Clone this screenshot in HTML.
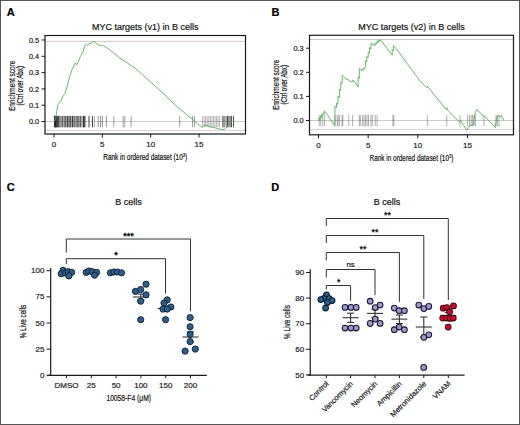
<!DOCTYPE html>
<html><head><meta charset="utf-8"><style>
html,body{margin:0;padding:0;background:#fff;}
svg{display:block;font-family:"Liberation Sans", sans-serif;}
</style></head><body>
<svg width="520" height="425" viewBox="0 0 520 425">
<rect x="0" y="0" width="520" height="425" fill="#fff"/>
<rect x="0.5" y="0.5" width="519" height="424" fill="none" stroke="#565656" stroke-width="1"/>
<text x="6.80" y="15.90" font-size="11" text-anchor="start" fill="#000" stroke="#000" stroke-width="0.2" font-weight="bold">A</text>
<text x="271.40" y="15.90" font-size="11" text-anchor="start" fill="#000" stroke="#000" stroke-width="0.2" font-weight="bold">B</text>
<text x="6.80" y="191.30" font-size="11" text-anchor="start" fill="#000" stroke="#000" stroke-width="0.2" font-weight="bold">C</text>
<text x="271.20" y="191.30" font-size="11" text-anchor="start" fill="#000" stroke="#000" stroke-width="0.2" font-weight="bold">D</text>
<text x="145.25" y="29.60" font-size="9.8" text-anchor="middle" fill="#111" stroke="#111" stroke-width="0.2" textLength="106.70" lengthAdjust="spacingAndGlyphs">MYC targets (v1) in B cells</text>
<line x1="45.00" y1="41.40" x2="245.50" y2="41.40" stroke="#d2bcc4" stroke-width="0.9"/>
<line x1="45.00" y1="130.40" x2="245.50" y2="130.40" stroke="#e2c4ce" stroke-width="0.9"/>
<line x1="45.00" y1="121.50" x2="245.50" y2="121.50" stroke="#c4c4c4" stroke-width="0.9"/>
<line x1="54.20" y1="115.90" x2="54.20" y2="127.30" stroke="rgba(20,20,20,0.2512432082632957)" stroke-width="1.0"/>
<line x1="54.95" y1="115.90" x2="54.95" y2="127.30" stroke="rgba(20,20,20,0.21318681826339042)" stroke-width="1.0"/>
<line x1="55.70" y1="115.90" x2="55.70" y2="127.30" stroke="rgba(20,20,20,0.32320558406876787)" stroke-width="1.0"/>
<line x1="56.45" y1="115.90" x2="56.45" y2="127.30" stroke="rgba(20,20,20,0.1959359830668594)" stroke-width="1.0"/>
<line x1="57.20" y1="115.90" x2="57.20" y2="127.30" stroke="rgba(20,20,20,0.29789404094747163)" stroke-width="1.0"/>
<line x1="57.95" y1="115.90" x2="57.95" y2="127.30" stroke="rgba(20,20,20,0.26045156172076883)" stroke-width="1.0"/>
<line x1="58.70" y1="115.90" x2="58.70" y2="127.30" stroke="rgba(20,20,20,0.1927597634504355)" stroke-width="1.0"/>
<line x1="59.45" y1="115.90" x2="59.45" y2="127.30" stroke="rgba(20,20,20,0.29163586130167246)" stroke-width="1.0"/>
<line x1="60.20" y1="115.90" x2="60.20" y2="127.30" stroke="rgba(20,20,20,0.18824904485723667)" stroke-width="1.0"/>
<line x1="60.95" y1="115.90" x2="60.95" y2="127.30" stroke="rgba(20,20,20,0.2754020504057249)" stroke-width="1.0"/>
<line x1="61.70" y1="115.90" x2="61.70" y2="127.30" stroke="rgba(20,20,20,0.19536819318641616)" stroke-width="1.0"/>
<line x1="62.45" y1="115.90" x2="62.45" y2="127.30" stroke="rgba(20,20,20,0.19995686293565032)" stroke-width="1.0"/>
<line x1="63.20" y1="115.90" x2="63.20" y2="127.30" stroke="rgba(20,20,20,0.27339422161135307)" stroke-width="1.0"/>
<line x1="63.95" y1="115.90" x2="63.95" y2="127.30" stroke="rgba(20,20,20,0.3619074674278484)" stroke-width="1.0"/>
<line x1="64.70" y1="115.90" x2="64.70" y2="127.30" stroke="rgba(20,20,20,0.20723643145292203)" stroke-width="1.0"/>
<line x1="65.45" y1="115.90" x2="65.45" y2="127.30" stroke="rgba(20,20,20,0.2291125722135432)" stroke-width="1.0"/>
<line x1="66.20" y1="115.90" x2="66.20" y2="127.30" stroke="rgba(20,20,20,0.31803530892922965)" stroke-width="1.0"/>
<line x1="66.95" y1="115.90" x2="66.95" y2="127.30" stroke="rgba(20,20,20,0.38849596734054126)" stroke-width="1.0"/>
<line x1="67.70" y1="115.90" x2="67.70" y2="127.30" stroke="rgba(20,20,20,0.3069626486958497)" stroke-width="1.0"/>
<line x1="68.45" y1="115.90" x2="68.45" y2="127.30" stroke="rgba(20,20,20,0.26726970442317166)" stroke-width="1.0"/>
<line x1="69.20" y1="115.90" x2="69.20" y2="127.30" stroke="rgba(20,20,20,0.3947761232304424)" stroke-width="1.0"/>
<line x1="69.95" y1="115.90" x2="69.95" y2="127.30" stroke="rgba(20,20,20,0.19024818973590638)" stroke-width="1.0"/>
<line x1="70.70" y1="115.90" x2="70.70" y2="127.30" stroke="rgba(20,20,20,0.36886306099070953)" stroke-width="1.0"/>
<line x1="71.45" y1="115.90" x2="71.45" y2="127.30" stroke="rgba(20,20,20,0.24371404299296878)" stroke-width="1.0"/>
<line x1="72.20" y1="115.90" x2="72.20" y2="127.30" stroke="rgba(20,20,20,0.21173611833863626)" stroke-width="1.0"/>
<line x1="72.95" y1="115.90" x2="72.95" y2="127.30" stroke="rgba(20,20,20,0.20591429237724104)" stroke-width="1.0"/>
<line x1="73.70" y1="115.90" x2="73.70" y2="127.30" stroke="rgba(20,20,20,0.24786600130242556)" stroke-width="1.0"/>
<line x1="74.45" y1="115.90" x2="74.45" y2="127.30" stroke="rgba(20,20,20,0.35954779900640693)" stroke-width="1.0"/>
<line x1="75.20" y1="115.90" x2="75.20" y2="127.30" stroke="rgba(20,20,20,0.21975980358326624)" stroke-width="1.0"/>
<line x1="75.95" y1="115.90" x2="75.95" y2="127.30" stroke="rgba(20,20,20,0.3079520360057426)" stroke-width="1.0"/>
<line x1="76.70" y1="115.90" x2="76.70" y2="127.30" stroke="rgba(20,20,20,0.3205609631637605)" stroke-width="1.0"/>
<line x1="77.45" y1="115.90" x2="77.45" y2="127.30" stroke="rgba(20,20,20,0.2619274593996609)" stroke-width="1.0"/>
<line x1="78.20" y1="115.90" x2="78.20" y2="127.30" stroke="rgba(20,20,20,0.3005037824561027)" stroke-width="1.0"/>
<line x1="78.95" y1="115.90" x2="78.95" y2="127.30" stroke="rgba(20,20,20,0.19381357449413109)" stroke-width="1.0"/>
<line x1="79.70" y1="115.90" x2="79.70" y2="127.30" stroke="rgba(20,20,20,0.19311225739257118)" stroke-width="1.0"/>
<line x1="80.45" y1="115.90" x2="80.45" y2="127.30" stroke="rgba(20,20,20,0.22531091682025184)" stroke-width="1.0"/>
<line x1="81.20" y1="115.90" x2="81.20" y2="127.30" stroke="rgba(20,20,20,0.32968799409999294)" stroke-width="1.0"/>
<line x1="81.95" y1="115.90" x2="81.95" y2="127.30" stroke="rgba(20,20,20,0.27407030724726866)" stroke-width="1.0"/>
<line x1="82.70" y1="115.90" x2="82.70" y2="127.30" stroke="rgba(20,20,20,0.24911237748289414)" stroke-width="1.0"/>
<line x1="83.45" y1="115.90" x2="83.45" y2="127.30" stroke="rgba(20,20,20,0.30882360997168057)" stroke-width="1.0"/>
<line x1="84.20" y1="115.90" x2="84.20" y2="127.30" stroke="rgba(20,20,20,0.2797005628015706)" stroke-width="1.0"/>
<line x1="84.95" y1="115.90" x2="84.95" y2="127.30" stroke="rgba(20,20,20,0.2459487393100101)" stroke-width="1.0"/>
<line x1="85.70" y1="115.90" x2="85.70" y2="127.30" stroke="rgba(20,20,20,0.3547634859349481)" stroke-width="1.0"/>
<line x1="54.60" y1="115.90" x2="54.60" y2="127.30" stroke="rgba(20,20,20,0.9)" stroke-width="1.0"/>
<line x1="55.40" y1="115.90" x2="55.40" y2="127.30" stroke="rgba(20,20,20,0.9)" stroke-width="1.0"/>
<line x1="56.20" y1="115.90" x2="56.20" y2="127.30" stroke="rgba(20,20,20,0.9)" stroke-width="1.0"/>
<line x1="57.00" y1="115.90" x2="57.00" y2="127.30" stroke="rgba(20,20,20,0.7)" stroke-width="1.0"/>
<line x1="57.80" y1="115.90" x2="57.80" y2="127.30" stroke="rgba(20,20,20,0.6)" stroke-width="1.0"/>
<line x1="58.50" y1="115.90" x2="58.50" y2="127.30" stroke="rgba(20,20,20,0.6)" stroke-width="1.0"/>
<line x1="60.00" y1="115.90" x2="60.00" y2="127.30" stroke="rgba(20,20,20,0.45)" stroke-width="1.0"/>
<line x1="62.20" y1="115.90" x2="62.20" y2="127.30" stroke="rgba(20,20,20,0.7)" stroke-width="1.0"/>
<line x1="65.10" y1="115.90" x2="65.10" y2="127.30" stroke="rgba(20,20,20,0.75)" stroke-width="1.0"/>
<line x1="67.70" y1="115.90" x2="67.70" y2="127.30" stroke="rgba(20,20,20,0.75)" stroke-width="1.0"/>
<line x1="70.20" y1="115.90" x2="70.20" y2="127.30" stroke="rgba(20,20,20,0.8)" stroke-width="1.0"/>
<line x1="72.50" y1="115.90" x2="72.50" y2="127.30" stroke="rgba(20,20,20,0.75)" stroke-width="1.0"/>
<line x1="74.00" y1="115.90" x2="74.00" y2="127.30" stroke="rgba(20,20,20,0.4)" stroke-width="1.0"/>
<line x1="75.90" y1="115.90" x2="75.90" y2="127.30" stroke="rgba(20,20,20,0.3)" stroke-width="1.0"/>
<line x1="78.00" y1="115.90" x2="78.00" y2="127.30" stroke="rgba(20,20,20,0.7)" stroke-width="1.0"/>
<line x1="80.20" y1="115.90" x2="80.20" y2="127.30" stroke="rgba(20,20,20,0.7)" stroke-width="1.0"/>
<line x1="83.60" y1="115.90" x2="83.60" y2="127.30" stroke="rgba(20,20,20,0.8)" stroke-width="1.0"/>
<line x1="84.40" y1="115.90" x2="84.40" y2="127.30" stroke="rgba(20,20,20,0.6)" stroke-width="1.0"/>
<line x1="89.00" y1="115.90" x2="89.00" y2="127.30" stroke="rgba(20,20,20,0.8)" stroke-width="1.0"/>
<line x1="92.50" y1="115.90" x2="92.50" y2="127.30" stroke="rgba(20,20,20,0.8)" stroke-width="1.0"/>
<line x1="94.50" y1="115.90" x2="94.50" y2="127.30" stroke="rgba(20,20,20,0.3)" stroke-width="1.0"/>
<line x1="98.20" y1="115.90" x2="98.20" y2="127.30" stroke="rgba(20,20,20,0.45)" stroke-width="1.0"/>
<line x1="100.50" y1="115.90" x2="100.50" y2="127.30" stroke="rgba(20,20,20,0.45)" stroke-width="1.0"/>
<line x1="102.40" y1="115.90" x2="102.40" y2="127.30" stroke="rgba(20,20,20,0.45)" stroke-width="1.0"/>
<line x1="106.30" y1="115.90" x2="106.30" y2="127.30" stroke="rgba(20,20,20,0.45)" stroke-width="1.0"/>
<line x1="113.80" y1="115.90" x2="113.80" y2="127.30" stroke="rgba(20,20,20,0.4)" stroke-width="1.0"/>
<line x1="123.10" y1="115.90" x2="123.10" y2="127.30" stroke="rgba(20,20,20,0.4)" stroke-width="1.0"/>
<line x1="124.80" y1="115.90" x2="124.80" y2="127.30" stroke="rgba(20,20,20,0.4)" stroke-width="1.0"/>
<line x1="131.10" y1="115.90" x2="131.10" y2="127.30" stroke="rgba(20,20,20,0.4)" stroke-width="1.0"/>
<line x1="179.70" y1="115.90" x2="179.70" y2="127.30" stroke="rgba(20,20,20,0.4)" stroke-width="1.0"/>
<line x1="192.50" y1="115.90" x2="192.50" y2="127.30" stroke="rgba(20,20,20,0.4)" stroke-width="1.0"/>
<line x1="194.50" y1="115.90" x2="194.50" y2="127.30" stroke="rgba(20,20,20,0.4)" stroke-width="1.0"/>
<line x1="202.60" y1="115.90" x2="202.60" y2="127.30" stroke="rgba(20,20,20,0.3)" stroke-width="1.0"/>
<line x1="204.15" y1="115.90" x2="204.15" y2="127.30" stroke="rgba(20,20,20,0.3)" stroke-width="1.0"/>
<line x1="205.70" y1="115.90" x2="205.70" y2="127.30" stroke="rgba(20,20,20,0.3)" stroke-width="1.0"/>
<line x1="207.25" y1="115.90" x2="207.25" y2="127.30" stroke="rgba(20,20,20,0.3)" stroke-width="1.0"/>
<line x1="208.80" y1="115.90" x2="208.80" y2="127.30" stroke="rgba(20,20,20,0.3)" stroke-width="1.0"/>
<line x1="210.35" y1="115.90" x2="210.35" y2="127.30" stroke="rgba(20,20,20,0.3)" stroke-width="1.0"/>
<line x1="211.90" y1="115.90" x2="211.90" y2="127.30" stroke="rgba(20,20,20,0.3)" stroke-width="1.0"/>
<line x1="213.45" y1="115.90" x2="213.45" y2="127.30" stroke="rgba(20,20,20,0.3)" stroke-width="1.0"/>
<line x1="215.00" y1="115.90" x2="215.00" y2="127.30" stroke="rgba(20,20,20,0.3)" stroke-width="1.0"/>
<line x1="216.55" y1="115.90" x2="216.55" y2="127.30" stroke="rgba(20,20,20,0.3)" stroke-width="1.0"/>
<line x1="218.10" y1="115.90" x2="218.10" y2="127.30" stroke="rgba(20,20,20,0.3)" stroke-width="1.0"/>
<line x1="219.65" y1="115.90" x2="219.65" y2="127.30" stroke="rgba(20,20,20,0.3)" stroke-width="1.0"/>
<line x1="222.80" y1="115.90" x2="222.80" y2="127.30" stroke="rgba(20,20,20,0.7)" stroke-width="1.0"/>
<line x1="224.10" y1="115.90" x2="224.10" y2="127.30" stroke="rgba(20,20,20,0.7)" stroke-width="1.0"/>
<line x1="226.10" y1="115.90" x2="226.10" y2="127.30" stroke="rgba(20,20,20,0.7)" stroke-width="1.0"/>
<line x1="227.50" y1="115.90" x2="227.50" y2="127.30" stroke="rgba(20,20,20,0.7)" stroke-width="1.0"/>
<line x1="228.80" y1="115.90" x2="228.80" y2="127.30" stroke="rgba(20,20,20,0.7)" stroke-width="1.0"/>
<line x1="230.20" y1="115.90" x2="230.20" y2="127.30" stroke="rgba(20,20,20,0.7)" stroke-width="1.0"/>
<line x1="231.50" y1="115.90" x2="231.50" y2="127.30" stroke="rgba(20,20,20,0.7)" stroke-width="1.0"/>
<line x1="233.50" y1="115.90" x2="233.50" y2="127.30" stroke="rgba(20,20,20,0.7)" stroke-width="1.0"/>
<polyline points="54.50,121.50 55.80,117.40 56.90,110.50 58.00,104.40 59.20,102.90 61.50,99.80 63.00,96.00 65.30,92.90 66.80,87.60 68.40,81.40 69.90,76.10 71.90,69.80 73.80,66.10 75.20,63.20 77.10,64.60 78.50,61.40 80.40,56.60 81.80,53.80 83.20,51.50 84.60,45.40 85.50,44.40 86.90,45.40 88.40,44.90 89.80,43.00 90.70,43.90 92.10,42.10 93.50,41.40 94.90,42.10 97.30,44.40 100.10,45.40 102.50,45.40 105.80,47.20 108.60,49.10 113.00,52.40 121.00,59.00 129.00,64.00 135.00,68.00 145.00,77.00 155.00,86.00 165.00,95.00 175.00,105.00 181.00,110.00 185.00,113.10 189.00,117.00 193.75,120.00 197.50,123.75 201.90,127.50 203.75,125.60 206.25,125.00 210.00,126.90 213.75,127.50 217.50,128.50 221.25,129.40 223.75,129.75 225.60,128.75 227.50,126.25 229.40,123.75 231.90,121.25" fill="none" stroke="#56b056" stroke-width="0.9" stroke-linejoin="round"/>
<rect x="45" y="35.5" width="200.5" height="98.5" fill="none" stroke="#1a1a1a" stroke-width="1.2"/>
<line x1="41.50" y1="121.50" x2="45.00" y2="121.50" stroke="#1a1a1a" stroke-width="1"/>
<text x="39.20" y="124.10" font-size="7.8" text-anchor="end" fill="#222" stroke="#222" stroke-width="0.2" textLength="10.30" lengthAdjust="spacingAndGlyphs">0.0</text>
<line x1="41.50" y1="105.20" x2="45.00" y2="105.20" stroke="#1a1a1a" stroke-width="1"/>
<text x="39.20" y="107.80" font-size="7.8" text-anchor="end" fill="#222" stroke="#222" stroke-width="0.2" textLength="10.30" lengthAdjust="spacingAndGlyphs">0.1</text>
<line x1="41.50" y1="88.90" x2="45.00" y2="88.90" stroke="#1a1a1a" stroke-width="1"/>
<text x="39.20" y="91.50" font-size="7.8" text-anchor="end" fill="#222" stroke="#222" stroke-width="0.2" textLength="10.30" lengthAdjust="spacingAndGlyphs">0.2</text>
<line x1="41.50" y1="72.60" x2="45.00" y2="72.60" stroke="#1a1a1a" stroke-width="1"/>
<text x="39.20" y="75.20" font-size="7.8" text-anchor="end" fill="#222" stroke="#222" stroke-width="0.2" textLength="10.30" lengthAdjust="spacingAndGlyphs">0.3</text>
<line x1="41.50" y1="56.30" x2="45.00" y2="56.30" stroke="#1a1a1a" stroke-width="1"/>
<text x="39.20" y="58.90" font-size="7.8" text-anchor="end" fill="#222" stroke="#222" stroke-width="0.2" textLength="10.30" lengthAdjust="spacingAndGlyphs">0.4</text>
<line x1="41.50" y1="40.00" x2="45.00" y2="40.00" stroke="#1a1a1a" stroke-width="1"/>
<text x="39.20" y="42.60" font-size="7.8" text-anchor="end" fill="#222" stroke="#222" stroke-width="0.2" textLength="10.30" lengthAdjust="spacingAndGlyphs">0.5</text>
<line x1="54.00" y1="134.00" x2="54.00" y2="137.50" stroke="#1a1a1a" stroke-width="1"/>
<text x="54.00" y="147.30" font-size="8" text-anchor="middle" fill="#222" stroke="#222" stroke-width="0.2">0</text>
<line x1="102.35" y1="134.00" x2="102.35" y2="137.50" stroke="#1a1a1a" stroke-width="1"/>
<text x="102.35" y="147.30" font-size="8" text-anchor="middle" fill="#222" stroke="#222" stroke-width="0.2">5</text>
<line x1="150.70" y1="134.00" x2="150.70" y2="137.50" stroke="#1a1a1a" stroke-width="1"/>
<text x="150.70" y="147.30" font-size="8" text-anchor="middle" fill="#222" stroke="#222" stroke-width="0.2">10</text>
<line x1="199.05" y1="134.00" x2="199.05" y2="137.50" stroke="#1a1a1a" stroke-width="1"/>
<text x="199.05" y="147.30" font-size="8" text-anchor="middle" fill="#222" stroke="#222" stroke-width="0.2">15</text>
<text x="145.25" y="160.00" font-size="8.6" text-anchor="middle" fill="#111" stroke="#111" stroke-width="0.2" textLength="83.80" lengthAdjust="spacingAndGlyphs">Rank in ordered dataset (10<tspan font-size="5.5" dy="-3">3</tspan><tspan dy="3">)</tspan></text>
<text x="15.20" y="85.80" font-size="9.0" text-anchor="middle" fill="#111" stroke="#111" stroke-width="0.2" textLength="50.50" lengthAdjust="spacingAndGlyphs" transform="rotate(-90 15.20 85.80)">Enrichment score</text>
<text x="23.10" y="85.80" font-size="9.0" text-anchor="middle" fill="#111" stroke="#111" stroke-width="0.2" textLength="39.50" lengthAdjust="spacingAndGlyphs" transform="rotate(-90 23.10 85.80)">(Ctrl over Abx)</text>
<text x="411.50" y="29.60" font-size="9.8" text-anchor="middle" fill="#111" stroke="#111" stroke-width="0.2" textLength="106.70" lengthAdjust="spacingAndGlyphs">MYC targets (v2) in B cells</text>
<line x1="309.50" y1="39.50" x2="513.50" y2="39.50" stroke="#d2bcc4" stroke-width="0.9"/>
<line x1="309.50" y1="129.70" x2="513.50" y2="129.70" stroke="#e2c4ce" stroke-width="0.9"/>
<line x1="309.50" y1="120.50" x2="513.50" y2="120.50" stroke="#c4c4c4" stroke-width="0.9"/>
<line x1="319.20" y1="114.90" x2="319.20" y2="126.30" stroke="rgba(20,20,20,0.33)" stroke-width="1.0"/>
<line x1="320.80" y1="114.90" x2="320.80" y2="126.30" stroke="rgba(20,20,20,0.33)" stroke-width="1.0"/>
<line x1="322.70" y1="114.90" x2="322.70" y2="126.30" stroke="rgba(20,20,20,0.33)" stroke-width="1.0"/>
<line x1="324.60" y1="114.90" x2="324.60" y2="126.30" stroke="rgba(20,20,20,0.33)" stroke-width="1.0"/>
<line x1="335.20" y1="114.90" x2="335.20" y2="126.30" stroke="rgba(20,20,20,0.33)" stroke-width="1.0"/>
<line x1="337.20" y1="114.90" x2="337.20" y2="126.30" stroke="rgba(20,20,20,0.33)" stroke-width="1.0"/>
<line x1="338.20" y1="114.90" x2="338.20" y2="126.30" stroke="rgba(20,20,20,0.33)" stroke-width="1.0"/>
<line x1="339.60" y1="114.90" x2="339.60" y2="126.30" stroke="rgba(20,20,20,0.33)" stroke-width="1.0"/>
<line x1="342.00" y1="114.90" x2="342.00" y2="126.30" stroke="rgba(20,20,20,0.33)" stroke-width="1.0"/>
<line x1="342.80" y1="114.90" x2="342.80" y2="126.30" stroke="rgba(20,20,20,0.33)" stroke-width="1.0"/>
<line x1="348.80" y1="114.90" x2="348.80" y2="126.30" stroke="rgba(20,20,20,0.33)" stroke-width="1.0"/>
<line x1="352.60" y1="114.90" x2="352.60" y2="126.30" stroke="rgba(20,20,20,0.33)" stroke-width="1.0"/>
<line x1="359.30" y1="114.90" x2="359.30" y2="126.30" stroke="rgba(20,20,20,0.33)" stroke-width="1.0"/>
<line x1="360.30" y1="114.90" x2="360.30" y2="126.30" stroke="rgba(20,20,20,0.33)" stroke-width="1.0"/>
<line x1="362.70" y1="114.90" x2="362.70" y2="126.30" stroke="rgba(20,20,20,0.33)" stroke-width="1.0"/>
<line x1="364.10" y1="114.90" x2="364.10" y2="126.30" stroke="rgba(20,20,20,0.33)" stroke-width="1.0"/>
<line x1="365.60" y1="114.90" x2="365.60" y2="126.30" stroke="rgba(20,20,20,0.33)" stroke-width="1.0"/>
<line x1="367.00" y1="114.90" x2="367.00" y2="126.30" stroke="rgba(20,20,20,0.33)" stroke-width="1.0"/>
<line x1="368.50" y1="114.90" x2="368.50" y2="126.30" stroke="rgba(20,20,20,0.33)" stroke-width="1.0"/>
<line x1="370.90" y1="114.90" x2="370.90" y2="126.30" stroke="rgba(20,20,20,0.33)" stroke-width="1.0"/>
<line x1="372.30" y1="114.90" x2="372.30" y2="126.30" stroke="rgba(20,20,20,0.33)" stroke-width="1.0"/>
<line x1="375.20" y1="114.90" x2="375.20" y2="126.30" stroke="rgba(20,20,20,0.33)" stroke-width="1.0"/>
<line x1="377.10" y1="114.90" x2="377.10" y2="126.30" stroke="rgba(20,20,20,0.33)" stroke-width="1.0"/>
<line x1="392.90" y1="114.90" x2="392.90" y2="126.30" stroke="rgba(20,20,20,0.33)" stroke-width="1.0"/>
<line x1="393.80" y1="114.90" x2="393.80" y2="126.30" stroke="rgba(20,20,20,0.33)" stroke-width="1.0"/>
<line x1="427.30" y1="114.90" x2="427.30" y2="126.30" stroke="rgba(20,20,20,0.33)" stroke-width="1.0"/>
<line x1="446.80" y1="114.90" x2="446.80" y2="126.30" stroke="rgba(20,20,20,0.33)" stroke-width="1.0"/>
<line x1="460.10" y1="114.90" x2="460.10" y2="126.30" stroke="rgba(20,20,20,0.33)" stroke-width="1.0"/>
<line x1="467.60" y1="114.90" x2="467.60" y2="126.30" stroke="rgba(20,20,20,0.33)" stroke-width="1.0"/>
<line x1="469.50" y1="114.90" x2="469.50" y2="126.30" stroke="rgba(20,20,20,0.33)" stroke-width="1.0"/>
<line x1="471.20" y1="114.90" x2="471.20" y2="126.30" stroke="rgba(20,20,20,0.33)" stroke-width="1.0"/>
<line x1="472.60" y1="114.90" x2="472.60" y2="126.30" stroke="rgba(20,20,20,0.33)" stroke-width="1.0"/>
<line x1="474.00" y1="114.90" x2="474.00" y2="126.30" stroke="rgba(20,20,20,0.33)" stroke-width="1.0"/>
<line x1="475.40" y1="114.90" x2="475.40" y2="126.30" stroke="rgba(20,20,20,0.33)" stroke-width="1.0"/>
<line x1="484.00" y1="114.90" x2="484.00" y2="126.30" stroke="rgba(20,20,20,0.33)" stroke-width="1.0"/>
<line x1="496.00" y1="114.90" x2="496.00" y2="126.30" stroke="rgba(20,20,20,0.33)" stroke-width="1.0"/>
<line x1="497.40" y1="114.90" x2="497.40" y2="126.30" stroke="rgba(20,20,20,0.33)" stroke-width="1.0"/>
<line x1="499.00" y1="114.90" x2="499.00" y2="126.30" stroke="rgba(20,20,20,0.33)" stroke-width="1.0"/>
<polyline points="318.90,121.10 318.90,118.02 320.26,119.32 320.26,116.24 321.62,117.54 321.62,114.46 322.98,115.76 322.98,112.68 324.34,113.98 324.34,110.90 325.70,112.20 334.60,125.60 335.00,110.80 335.00,106.30 336.50,107.60 336.50,103.10 338.00,104.40 338.00,96.10 339.40,97.40 339.40,89.10 340.80,90.40 340.80,82.10 342.20,83.40 342.20,75.10 343.60,76.40 346.90,79.70 347.30,78.60 349.10,80.90 352.50,82.00 353.10,79.80 358.10,87.00 358.10,77.10 359.35,78.40 359.35,68.50 360.60,69.80 361.60,70.80 362.10,68.90 363.00,70.30 363.50,68.00 364.40,68.90 365.40,66.50 365.40,60.78 366.80,62.08 366.80,56.36 368.20,57.66 368.20,51.94 369.60,53.24 369.60,47.52 371.00,48.82 371.00,43.10 372.40,44.40 373.80,45.80 374.30,43.40 375.70,45.40 376.20,42.10 377.10,43.20 377.60,40.60 378.70,42.10 379.10,40.20 379.90,41.20 380.30,39.70 380.90,40.20 392.20,55.20 392.20,49.70 393.35,51.00 393.35,45.50 394.50,46.80 396.30,48.80 420.00,80.90 426.90,87.80 427.80,86.10 428.70,87.80 446.00,109.40 446.80,107.70 447.70,110.30 459.80,122.40 460.70,120.70 466.70,130.20 468.40,127.60 470.20,125.80 471.90,125.00 473.60,124.10 474.50,116.30 475.40,112.00 477.10,109.40 484.00,117.20 484.90,116.30 495.30,127.60 496.10,120.70 497.00,116.30 498.70,115.50 500.40,117.20 501.30,115.50 503.90,120.70" fill="none" stroke="#56b056" stroke-width="0.9" stroke-linejoin="round"/>
<rect x="309.5" y="35.3" width="204.0" height="99.50000000000001" fill="none" stroke="#1a1a1a" stroke-width="1.2"/>
<line x1="306.00" y1="120.50" x2="309.50" y2="120.50" stroke="#1a1a1a" stroke-width="1"/>
<text x="303.70" y="123.10" font-size="7.8" text-anchor="end" fill="#222" stroke="#222" stroke-width="0.2" textLength="10.30" lengthAdjust="spacingAndGlyphs">0.0</text>
<line x1="306.00" y1="96.40" x2="309.50" y2="96.40" stroke="#1a1a1a" stroke-width="1"/>
<text x="303.70" y="99.00" font-size="7.8" text-anchor="end" fill="#222" stroke="#222" stroke-width="0.2" textLength="10.30" lengthAdjust="spacingAndGlyphs">0.1</text>
<line x1="306.00" y1="72.30" x2="309.50" y2="72.30" stroke="#1a1a1a" stroke-width="1"/>
<text x="303.70" y="74.90" font-size="7.8" text-anchor="end" fill="#222" stroke="#222" stroke-width="0.2" textLength="10.30" lengthAdjust="spacingAndGlyphs">0.2</text>
<line x1="306.00" y1="48.20" x2="309.50" y2="48.20" stroke="#1a1a1a" stroke-width="1"/>
<text x="303.70" y="50.80" font-size="7.8" text-anchor="end" fill="#222" stroke="#222" stroke-width="0.2" textLength="10.30" lengthAdjust="spacingAndGlyphs">0.3</text>
<line x1="318.50" y1="134.80" x2="318.50" y2="138.30" stroke="#1a1a1a" stroke-width="1"/>
<text x="318.50" y="148.10" font-size="8" text-anchor="middle" fill="#222" stroke="#222" stroke-width="0.2">0</text>
<line x1="368.15" y1="134.80" x2="368.15" y2="138.30" stroke="#1a1a1a" stroke-width="1"/>
<text x="368.15" y="148.10" font-size="8" text-anchor="middle" fill="#222" stroke="#222" stroke-width="0.2">5</text>
<line x1="417.80" y1="134.80" x2="417.80" y2="138.30" stroke="#1a1a1a" stroke-width="1"/>
<text x="417.80" y="148.10" font-size="8" text-anchor="middle" fill="#222" stroke="#222" stroke-width="0.2">10</text>
<line x1="467.45" y1="134.80" x2="467.45" y2="138.30" stroke="#1a1a1a" stroke-width="1"/>
<text x="467.45" y="148.10" font-size="8" text-anchor="middle" fill="#222" stroke="#222" stroke-width="0.2">15</text>
<text x="411.50" y="160.80" font-size="8.6" text-anchor="middle" fill="#111" stroke="#111" stroke-width="0.2" textLength="83.80" lengthAdjust="spacingAndGlyphs">Rank in ordered dataset (10<tspan font-size="5.5" dy="-3">3</tspan><tspan dy="3">)</tspan></text>
<text x="279.50" y="84.80" font-size="9.0" text-anchor="middle" fill="#111" stroke="#111" stroke-width="0.2" textLength="50.50" lengthAdjust="spacingAndGlyphs" transform="rotate(-90 279.50 84.80)">Enrichment score</text>
<text x="287.40" y="84.80" font-size="9.0" text-anchor="middle" fill="#111" stroke="#111" stroke-width="0.2" textLength="39.50" lengthAdjust="spacingAndGlyphs" transform="rotate(-90 287.40 84.80)">(Ctrl over Abx)</text>
<text x="128.60" y="204.80" font-size="9" text-anchor="middle" fill="#111" stroke="#111" stroke-width="0.2">B cells</text>
<line x1="50.70" y1="268.00" x2="50.70" y2="375.90" stroke="#1a1a1a" stroke-width="1.2"/>
<line x1="47.60" y1="375.30" x2="206.80" y2="375.30" stroke="#1a1a1a" stroke-width="1.2"/>
<line x1="46.50" y1="375.30" x2="50.70" y2="375.30" stroke="#1a1a1a" stroke-width="1"/>
<text x="44.40" y="377.90" font-size="8" text-anchor="end" fill="#222" stroke="#222" stroke-width="0.2">0</text>
<line x1="46.50" y1="349.14" x2="50.70" y2="349.14" stroke="#1a1a1a" stroke-width="1"/>
<text x="44.40" y="351.74" font-size="8" text-anchor="end" fill="#222" stroke="#222" stroke-width="0.2">25</text>
<line x1="46.50" y1="322.98" x2="50.70" y2="322.98" stroke="#1a1a1a" stroke-width="1"/>
<text x="44.40" y="325.58" font-size="8" text-anchor="end" fill="#222" stroke="#222" stroke-width="0.2">50</text>
<line x1="46.50" y1="296.82" x2="50.70" y2="296.82" stroke="#1a1a1a" stroke-width="1"/>
<text x="44.40" y="299.42" font-size="8" text-anchor="end" fill="#222" stroke="#222" stroke-width="0.2">75</text>
<line x1="46.50" y1="270.66" x2="50.70" y2="270.66" stroke="#1a1a1a" stroke-width="1"/>
<text x="44.40" y="273.26" font-size="8" text-anchor="end" fill="#222" stroke="#222" stroke-width="0.2">100</text>
<line x1="66.50" y1="375.30" x2="66.50" y2="378.20" stroke="#1a1a1a" stroke-width="1"/>
<text x="66.50" y="387.60" font-size="8" text-anchor="middle" fill="#222" stroke="#222" stroke-width="0.2">DMSO</text>
<line x1="91.30" y1="375.30" x2="91.30" y2="378.20" stroke="#1a1a1a" stroke-width="1"/>
<text x="91.30" y="387.60" font-size="8" text-anchor="middle" fill="#222" stroke="#222" stroke-width="0.2">25</text>
<line x1="116.10" y1="375.30" x2="116.10" y2="378.20" stroke="#1a1a1a" stroke-width="1"/>
<text x="116.10" y="387.60" font-size="8" text-anchor="middle" fill="#222" stroke="#222" stroke-width="0.2">50</text>
<line x1="140.90" y1="375.30" x2="140.90" y2="378.20" stroke="#1a1a1a" stroke-width="1"/>
<text x="140.90" y="387.60" font-size="8" text-anchor="middle" fill="#222" stroke="#222" stroke-width="0.2">100</text>
<line x1="165.70" y1="375.30" x2="165.70" y2="378.20" stroke="#1a1a1a" stroke-width="1"/>
<text x="165.70" y="387.60" font-size="8" text-anchor="middle" fill="#222" stroke="#222" stroke-width="0.2">150</text>
<line x1="190.50" y1="375.30" x2="190.50" y2="378.20" stroke="#1a1a1a" stroke-width="1"/>
<text x="190.50" y="387.60" font-size="8" text-anchor="middle" fill="#222" stroke="#222" stroke-width="0.2">200</text>
<text x="128.70" y="400.70" font-size="9.2" text-anchor="middle" fill="#111" stroke="#111" stroke-width="0.2" textLength="44.60" lengthAdjust="spacingAndGlyphs">10058-F4 (μM)</text>
<text x="26.00" y="321.50" font-size="8.6" text-anchor="middle" fill="#111" stroke="#111" stroke-width="0.2" textLength="33.60" lengthAdjust="spacingAndGlyphs" transform="rotate(-90 26.00 321.50)">% Live cells</text>
<polyline points="66.30,252.50 66.30,239.00 190.50,239.00 190.50,311.40" fill="none" stroke="#333" stroke-width="1" stroke-linejoin="round"/>
<text x="128.60" y="238.70" font-size="9" text-anchor="middle" fill="#111" stroke="#111" stroke-width="0.45">***</text>
<polyline points="66.30,264.20 66.30,258.70 165.50,258.70 165.50,293.60" fill="none" stroke="#333" stroke-width="1" stroke-linejoin="round"/>
<text x="116.00" y="258.40" font-size="9" text-anchor="middle" fill="#111" stroke="#111" stroke-width="0.45">*</text>
<line x1="132.90" y1="297.00" x2="148.90" y2="297.00" stroke="#333" stroke-width="1.1"/>
<line x1="140.90" y1="294.00" x2="140.90" y2="300.00" stroke="#333" stroke-width="1.1"/>
<line x1="137.40" y1="294.00" x2="144.40" y2="294.00" stroke="#333" stroke-width="1.1"/>
<line x1="137.40" y1="300.00" x2="144.40" y2="300.00" stroke="#333" stroke-width="1.1"/>
<line x1="157.70" y1="308.40" x2="173.70" y2="308.40" stroke="#333" stroke-width="1.1"/>
<line x1="165.70" y1="306.00" x2="165.70" y2="311.00" stroke="#333" stroke-width="1.1"/>
<line x1="162.20" y1="306.00" x2="169.20" y2="306.00" stroke="#333" stroke-width="1.1"/>
<line x1="162.20" y1="311.00" x2="169.20" y2="311.00" stroke="#333" stroke-width="1.1"/>
<line x1="182.50" y1="337.00" x2="198.50" y2="337.00" stroke="#333" stroke-width="1.1"/>
<line x1="190.50" y1="331.80" x2="190.50" y2="342.20" stroke="#333" stroke-width="1.1"/>
<line x1="187.00" y1="331.80" x2="194.00" y2="331.80" stroke="#333" stroke-width="1.1"/>
<line x1="187.00" y1="342.20" x2="194.00" y2="342.20" stroke="#333" stroke-width="1.1"/>
<circle cx="63.00" cy="270.30" r="3.1" fill="#2e5e8c" stroke="#0c1c30" stroke-width="0.9"/>
<circle cx="61.20" cy="273.80" r="3.1" fill="#2e5e8c" stroke="#0c1c30" stroke-width="0.9"/>
<circle cx="65.40" cy="273.10" r="3.1" fill="#2e5e8c" stroke="#0c1c30" stroke-width="0.9"/>
<circle cx="68.20" cy="271.70" r="3.1" fill="#2e5e8c" stroke="#0c1c30" stroke-width="0.9"/>
<circle cx="71.60" cy="272.40" r="3.1" fill="#2e5e8c" stroke="#0c1c30" stroke-width="0.9"/>
<circle cx="68.90" cy="275.90" r="3.1" fill="#2e5e8c" stroke="#0c1c30" stroke-width="0.9"/>
<circle cx="86.20" cy="272.40" r="3.1" fill="#2e5e8c" stroke="#0c1c30" stroke-width="0.9"/>
<circle cx="88.90" cy="271.00" r="3.1" fill="#2e5e8c" stroke="#0c1c30" stroke-width="0.9"/>
<circle cx="92.10" cy="271.70" r="3.1" fill="#2e5e8c" stroke="#0c1c30" stroke-width="0.9"/>
<circle cx="96.60" cy="272.40" r="3.1" fill="#2e5e8c" stroke="#0c1c30" stroke-width="0.9"/>
<circle cx="94.50" cy="275.20" r="3.1" fill="#2e5e8c" stroke="#0c1c30" stroke-width="0.9"/>
<circle cx="110.40" cy="272.80" r="3.1" fill="#2e5e8c" stroke="#0c1c30" stroke-width="0.9"/>
<circle cx="113.90" cy="272.00" r="3.1" fill="#2e5e8c" stroke="#0c1c30" stroke-width="0.9"/>
<circle cx="117.30" cy="272.00" r="3.1" fill="#2e5e8c" stroke="#0c1c30" stroke-width="0.9"/>
<circle cx="121.50" cy="272.80" r="3.1" fill="#2e5e8c" stroke="#0c1c30" stroke-width="0.9"/>
<circle cx="146.00" cy="284.20" r="3.1" fill="#2e5e8c" stroke="#0c1c30" stroke-width="0.9"/>
<circle cx="135.40" cy="291.40" r="3.1" fill="#2e5e8c" stroke="#0c1c30" stroke-width="0.9"/>
<circle cx="140.70" cy="289.50" r="3.1" fill="#2e5e8c" stroke="#0c1c30" stroke-width="0.9"/>
<circle cx="146.00" cy="294.80" r="3.1" fill="#2e5e8c" stroke="#0c1c30" stroke-width="0.9"/>
<circle cx="140.70" cy="301.20" r="3.1" fill="#2e5e8c" stroke="#0c1c30" stroke-width="0.9"/>
<circle cx="140.70" cy="319.70" r="3.1" fill="#2e5e8c" stroke="#0c1c30" stroke-width="0.9"/>
<circle cx="167.20" cy="299.90" r="3.1" fill="#2e5e8c" stroke="#0c1c30" stroke-width="0.9"/>
<circle cx="164.00" cy="303.10" r="3.1" fill="#2e5e8c" stroke="#0c1c30" stroke-width="0.9"/>
<circle cx="170.90" cy="307.00" r="3.1" fill="#2e5e8c" stroke="#0c1c30" stroke-width="0.9"/>
<circle cx="163.00" cy="309.10" r="3.1" fill="#2e5e8c" stroke="#0c1c30" stroke-width="0.9"/>
<circle cx="167.20" cy="309.10" r="3.1" fill="#2e5e8c" stroke="#0c1c30" stroke-width="0.9"/>
<circle cx="165.60" cy="319.70" r="3.1" fill="#2e5e8c" stroke="#0c1c30" stroke-width="0.9"/>
<circle cx="190.10" cy="317.60" r="3.1" fill="#2e5e8c" stroke="#0c1c30" stroke-width="0.9"/>
<circle cx="190.10" cy="326.80" r="3.1" fill="#2e5e8c" stroke="#0c1c30" stroke-width="0.9"/>
<circle cx="190.10" cy="334.30" r="3.1" fill="#2e5e8c" stroke="#0c1c30" stroke-width="0.9"/>
<circle cx="190.10" cy="341.60" r="3.1" fill="#2e5e8c" stroke="#0c1c30" stroke-width="0.9"/>
<circle cx="185.10" cy="351.10" r="3.1" fill="#2e5e8c" stroke="#0c1c30" stroke-width="0.9"/>
<circle cx="195.30" cy="349.10" r="3.1" fill="#2e5e8c" stroke="#0c1c30" stroke-width="0.9"/>
<text x="386.90" y="204.80" font-size="9" text-anchor="middle" fill="#111" stroke="#111" stroke-width="0.2">B cells</text>
<line x1="310.20" y1="269.20" x2="310.20" y2="375.70" stroke="#1a1a1a" stroke-width="1.2"/>
<line x1="307.60" y1="375.10" x2="464.60" y2="375.10" stroke="#1a1a1a" stroke-width="1.2"/>
<line x1="306.00" y1="374.90" x2="310.20" y2="374.90" stroke="#1a1a1a" stroke-width="1"/>
<text x="304.20" y="377.50" font-size="8" text-anchor="end" fill="#222" stroke="#222" stroke-width="0.2">50</text>
<line x1="306.00" y1="349.30" x2="310.20" y2="349.30" stroke="#1a1a1a" stroke-width="1"/>
<text x="304.20" y="351.90" font-size="8" text-anchor="end" fill="#222" stroke="#222" stroke-width="0.2">60</text>
<line x1="306.00" y1="323.70" x2="310.20" y2="323.70" stroke="#1a1a1a" stroke-width="1"/>
<text x="304.20" y="326.30" font-size="8" text-anchor="end" fill="#222" stroke="#222" stroke-width="0.2">70</text>
<line x1="306.00" y1="298.10" x2="310.20" y2="298.10" stroke="#1a1a1a" stroke-width="1"/>
<text x="304.20" y="300.70" font-size="8" text-anchor="end" fill="#222" stroke="#222" stroke-width="0.2">80</text>
<line x1="306.00" y1="272.50" x2="310.20" y2="272.50" stroke="#1a1a1a" stroke-width="1"/>
<text x="304.20" y="275.10" font-size="8" text-anchor="end" fill="#222" stroke="#222" stroke-width="0.2">90</text>
<line x1="326.30" y1="375.10" x2="326.30" y2="378.20" stroke="#1a1a1a" stroke-width="1"/>
<text x="329.10" y="384.20" font-size="7.5" text-anchor="end" fill="#222" stroke="#222" stroke-width="0.2" transform="rotate(-45 329.10 384.20)">Control</text>
<line x1="350.60" y1="375.10" x2="350.60" y2="378.20" stroke="#1a1a1a" stroke-width="1"/>
<text x="353.40" y="384.20" font-size="7.5" text-anchor="end" fill="#222" stroke="#222" stroke-width="0.2" transform="rotate(-45 353.40 384.20)">Vancomycin</text>
<line x1="375.00" y1="375.10" x2="375.00" y2="378.20" stroke="#1a1a1a" stroke-width="1"/>
<text x="377.80" y="384.20" font-size="7.5" text-anchor="end" fill="#222" stroke="#222" stroke-width="0.2" transform="rotate(-45 377.80 384.20)">Neomycin</text>
<line x1="399.40" y1="375.10" x2="399.40" y2="378.20" stroke="#1a1a1a" stroke-width="1"/>
<text x="402.20" y="384.20" font-size="7.5" text-anchor="end" fill="#222" stroke="#222" stroke-width="0.2" transform="rotate(-45 402.20 384.20)">Ampicillin</text>
<line x1="423.80" y1="375.10" x2="423.80" y2="378.20" stroke="#1a1a1a" stroke-width="1"/>
<text x="426.60" y="384.20" font-size="7.5" text-anchor="end" fill="#222" stroke="#222" stroke-width="0.2" transform="rotate(-45 426.60 384.20)">Metronidazole</text>
<line x1="448.30" y1="375.10" x2="448.30" y2="378.20" stroke="#1a1a1a" stroke-width="1"/>
<text x="451.10" y="384.20" font-size="7.5" text-anchor="end" fill="#222" stroke="#222" stroke-width="0.2" transform="rotate(-45 451.10 384.20)">VNAM</text>
<text x="290.00" y="322.00" font-size="8.6" text-anchor="middle" fill="#111" stroke="#111" stroke-width="0.2" textLength="33.80" lengthAdjust="spacingAndGlyphs" transform="rotate(-90 290.00 322.00)">% Live cells</text>
<polyline points="326.30,226.00 326.30,218.50 448.30,218.50 448.30,300.00" fill="none" stroke="#333" stroke-width="1" stroke-linejoin="round"/>
<text x="387.50" y="218.40" font-size="8.8" text-anchor="middle" fill="#111" stroke="#111" stroke-width="0.3">**</text>
<polyline points="326.30,243.00 326.30,235.50 423.80,235.50 423.80,299.00" fill="none" stroke="#333" stroke-width="1" stroke-linejoin="round"/>
<text x="375.00" y="235.40" font-size="8.8" text-anchor="middle" fill="#111" stroke="#111" stroke-width="0.3">**</text>
<polyline points="326.30,260.50 326.30,252.50 399.40,252.50 399.40,301.80" fill="none" stroke="#333" stroke-width="1" stroke-linejoin="round"/>
<text x="363.00" y="252.40" font-size="8.8" text-anchor="middle" fill="#111" stroke="#111" stroke-width="0.3">**</text>
<polyline points="326.30,277.50 326.30,269.50 375.00,269.50 375.00,295.20" fill="none" stroke="#333" stroke-width="1" stroke-linejoin="round"/>
<text x="350.50" y="267.00" font-size="7.8" text-anchor="middle" fill="#111" stroke="#111" stroke-width="0.2">ns</text>
<polyline points="326.30,289.50 326.30,285.50 350.60,285.50 350.60,300.90" fill="none" stroke="#333" stroke-width="1" stroke-linejoin="round"/>
<text x="338.80" y="285.40" font-size="8.8" text-anchor="middle" fill="#111" stroke="#111" stroke-width="0.3">*</text>
<line x1="342.60" y1="317.70" x2="358.60" y2="317.70" stroke="#333" stroke-width="1.1"/>
<line x1="350.60" y1="313.20" x2="350.60" y2="322.40" stroke="#333" stroke-width="1.1"/>
<line x1="347.10" y1="313.20" x2="354.10" y2="313.20" stroke="#333" stroke-width="1.1"/>
<line x1="347.10" y1="322.40" x2="354.10" y2="322.40" stroke="#333" stroke-width="1.1"/>
<line x1="367.00" y1="313.40" x2="383.00" y2="313.40" stroke="#333" stroke-width="1.1"/>
<line x1="375.00" y1="309.60" x2="375.00" y2="317.70" stroke="#333" stroke-width="1.1"/>
<line x1="371.50" y1="309.60" x2="378.50" y2="309.60" stroke="#333" stroke-width="1.1"/>
<line x1="371.50" y1="317.70" x2="378.50" y2="317.70" stroke="#333" stroke-width="1.1"/>
<line x1="391.40" y1="319.10" x2="407.40" y2="319.10" stroke="#333" stroke-width="1.1"/>
<line x1="399.40" y1="315.00" x2="399.40" y2="323.50" stroke="#333" stroke-width="1.1"/>
<line x1="395.90" y1="315.00" x2="402.90" y2="315.00" stroke="#333" stroke-width="1.1"/>
<line x1="395.90" y1="323.50" x2="402.90" y2="323.50" stroke="#333" stroke-width="1.1"/>
<line x1="415.80" y1="327.00" x2="431.80" y2="327.00" stroke="#333" stroke-width="1.1"/>
<line x1="423.80" y1="317.00" x2="423.80" y2="337.00" stroke="#333" stroke-width="1.1"/>
<line x1="420.30" y1="317.00" x2="427.30" y2="317.00" stroke="#333" stroke-width="1.1"/>
<line x1="420.30" y1="337.00" x2="427.30" y2="337.00" stroke="#333" stroke-width="1.1"/>
<line x1="440.30" y1="315.40" x2="456.30" y2="315.40" stroke="#333" stroke-width="1.1"/>
<line x1="448.30" y1="312.50" x2="448.30" y2="318.00" stroke="#333" stroke-width="1.1"/>
<line x1="444.80" y1="312.50" x2="451.80" y2="312.50" stroke="#333" stroke-width="1.1"/>
<line x1="444.80" y1="318.00" x2="451.80" y2="318.00" stroke="#333" stroke-width="1.1"/>
<circle cx="326.50" cy="294.80" r="2.85" fill="#2e5e8c" stroke="#0c1c30" stroke-width="1.05"/>
<circle cx="323.70" cy="298.60" r="2.85" fill="#2e5e8c" stroke="#0c1c30" stroke-width="1.05"/>
<circle cx="329.30" cy="298.60" r="2.85" fill="#2e5e8c" stroke="#0c1c30" stroke-width="1.05"/>
<circle cx="320.80" cy="299.50" r="2.85" fill="#2e5e8c" stroke="#0c1c30" stroke-width="1.05"/>
<circle cx="332.10" cy="300.50" r="2.85" fill="#2e5e8c" stroke="#0c1c30" stroke-width="1.05"/>
<circle cx="327.40" cy="302.40" r="2.85" fill="#2e5e8c" stroke="#0c1c30" stroke-width="1.05"/>
<circle cx="325.60" cy="308.00" r="2.85" fill="#2e5e8c" stroke="#0c1c30" stroke-width="1.05"/>
<circle cx="345.00" cy="307.40" r="2.85" fill="#9d98c6" stroke="#18183a" stroke-width="1.05"/>
<circle cx="350.90" cy="307.40" r="2.85" fill="#9d98c6" stroke="#18183a" stroke-width="1.05"/>
<circle cx="356.20" cy="307.40" r="2.85" fill="#9d98c6" stroke="#18183a" stroke-width="1.05"/>
<circle cx="345.00" cy="328.00" r="2.85" fill="#9d98c6" stroke="#18183a" stroke-width="1.05"/>
<circle cx="350.90" cy="328.00" r="2.85" fill="#9d98c6" stroke="#18183a" stroke-width="1.05"/>
<circle cx="356.20" cy="328.00" r="2.85" fill="#9d98c6" stroke="#18183a" stroke-width="1.05"/>
<circle cx="370.20" cy="301.20" r="2.85" fill="#9d98c6" stroke="#18183a" stroke-width="1.05"/>
<circle cx="375.20" cy="307.50" r="2.85" fill="#9d98c6" stroke="#18183a" stroke-width="1.05"/>
<circle cx="380.10" cy="305.00" r="2.85" fill="#9d98c6" stroke="#18183a" stroke-width="1.05"/>
<circle cx="370.20" cy="323.40" r="2.85" fill="#9d98c6" stroke="#18183a" stroke-width="1.05"/>
<circle cx="375.20" cy="319.10" r="2.85" fill="#9d98c6" stroke="#18183a" stroke-width="1.05"/>
<circle cx="380.10" cy="323.40" r="2.85" fill="#9d98c6" stroke="#18183a" stroke-width="1.05"/>
<circle cx="394.30" cy="308.10" r="2.85" fill="#9d98c6" stroke="#18183a" stroke-width="1.05"/>
<circle cx="399.10" cy="310.70" r="2.85" fill="#9d98c6" stroke="#18183a" stroke-width="1.05"/>
<circle cx="404.40" cy="310.70" r="2.85" fill="#9d98c6" stroke="#18183a" stroke-width="1.05"/>
<circle cx="394.30" cy="329.70" r="2.85" fill="#9d98c6" stroke="#18183a" stroke-width="1.05"/>
<circle cx="399.10" cy="327.00" r="2.85" fill="#9d98c6" stroke="#18183a" stroke-width="1.05"/>
<circle cx="404.40" cy="329.70" r="2.85" fill="#9d98c6" stroke="#18183a" stroke-width="1.05"/>
<circle cx="418.80" cy="305.00" r="2.85" fill="#9d98c6" stroke="#18183a" stroke-width="1.05"/>
<circle cx="423.90" cy="308.60" r="2.85" fill="#9d98c6" stroke="#18183a" stroke-width="1.05"/>
<circle cx="428.80" cy="306.40" r="2.85" fill="#9d98c6" stroke="#18183a" stroke-width="1.05"/>
<circle cx="423.90" cy="337.30" r="2.85" fill="#9d98c6" stroke="#18183a" stroke-width="1.05"/>
<circle cx="428.80" cy="334.80" r="2.85" fill="#9d98c6" stroke="#18183a" stroke-width="1.05"/>
<circle cx="423.70" cy="367.40" r="2.85" fill="#9d98c6" stroke="#18183a" stroke-width="1.05"/>
<circle cx="443.20" cy="308.20" r="2.85" fill="#c8102e" stroke="#4a0a14" stroke-width="1.05"/>
<circle cx="446.90" cy="307.50" r="2.85" fill="#c8102e" stroke="#4a0a14" stroke-width="1.05"/>
<circle cx="453.50" cy="305.90" r="2.85" fill="#c8102e" stroke="#4a0a14" stroke-width="1.05"/>
<circle cx="449.60" cy="311.70" r="2.85" fill="#c8102e" stroke="#4a0a14" stroke-width="1.05"/>
<circle cx="442.70" cy="318.00" r="2.85" fill="#c8102e" stroke="#4a0a14" stroke-width="1.05"/>
<circle cx="446.40" cy="318.00" r="2.85" fill="#c8102e" stroke="#4a0a14" stroke-width="1.05"/>
<circle cx="450.10" cy="318.40" r="2.85" fill="#c8102e" stroke="#4a0a14" stroke-width="1.05"/>
<circle cx="453.30" cy="318.00" r="2.85" fill="#c8102e" stroke="#4a0a14" stroke-width="1.05"/>
<circle cx="448.20" cy="327.00" r="2.85" fill="#c8102e" stroke="#4a0a14" stroke-width="1.05"/>
</svg>
</body></html>
